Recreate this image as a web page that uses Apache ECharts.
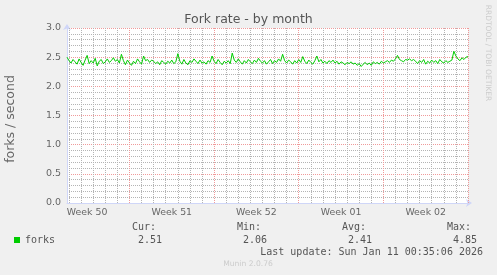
<!DOCTYPE html>
<html>
<head>
<meta charset="utf-8">
<script src="https://cdn.jsdelivr.net/npm/echarts@6/dist/echarts.min.js"></script>
<style>
html,body{margin:0;padding:0;background:#f0f0f0;}
#chart{width:497px;height:275px;}
</style>
</head>
<body>
<div id="chart"></div>
<script>
// Time slots: 4-hour averages starting Mon Dec 8 2025 20:00 (UTC), ending Jan 11 2026 00:00
const startTimeUTC = Date.UTC(2025, 11, 8, 20, 0, 0);
const stepHours = 4;

// forks / second
const forks = [
  2.50, 2.44, 2.40, 2.46, 2.42, 2.38, 2.47, 2.41, 2.36, 2.45,
  2.53, 2.39, 2.44, 2.40, 2.48, 2.35, 2.43, 2.46, 2.39, 2.42,
  2.47, 2.41, 2.44, 2.49, 2.43, 2.46, 2.40, 2.55, 2.44, 2.37,
  2.45, 2.40, 2.36, 2.43, 2.39, 2.47, 2.42, 2.38, 2.52, 2.44,
  2.46, 2.41, 2.45, 2.43, 2.39, 2.42, 2.37, 2.44, 2.41, 2.38,
  2.43, 2.40, 2.45, 2.39, 2.42, 2.56, 2.43, 2.38, 2.46, 2.40,
  2.37, 2.44, 2.41, 2.47, 2.43, 2.39, 2.45, 2.40, 2.42, 2.38,
  2.44, 2.41, 2.52, 2.43, 2.39, 2.46, 2.41, 2.37, 2.43, 2.40,
  2.44, 2.39, 2.57, 2.45, 2.41, 2.47, 2.42, 2.38, 2.44, 2.40,
  2.46, 2.42, 2.39, 2.45, 2.41, 2.48, 2.43, 2.40, 2.44, 2.38,
  2.42, 2.46, 2.39, 2.44, 2.41, 2.47, 2.43, 2.55, 2.44, 2.40,
  2.45, 2.42, 2.38, 2.44, 2.40, 2.46, 2.41, 2.51, 2.43, 2.39,
  2.45, 2.41, 2.38, 2.44, 2.52, 2.42, 2.46, 2.40, 2.43, 2.39,
  2.44, 2.41, 2.45, 2.40, 2.43, 2.38, 2.42, 2.40, 2.37, 2.41,
  2.39, 2.42, 2.38, 2.40, 2.36, 2.39, 2.34, 2.38, 2.41, 2.37,
  2.40, 2.36, 2.42, 2.39, 2.41, 2.38, 2.43, 2.40, 2.42, 2.44,
  2.41, 2.45, 2.43, 2.47, 2.53, 2.46, 2.44, 2.42, 2.46, 2.45,
  2.47, 2.44, 2.46, 2.43, 2.39, 2.44, 2.41, 2.46, 2.38, 2.43,
  2.40, 2.45, 2.41, 2.44, 2.39, 2.46, 2.42, 2.40, 2.44, 2.41,
  2.43, 2.45, 2.60, 2.52, 2.47, 2.44, 2.49, 2.46, 2.50, 2.51
];

const weekLabels = ['Week 50', 'Week 51', 'Week 52', 'Week 01', 'Week 02'];
const yTicks = [0, 0.5, 1.0, 1.5, 2.0, 2.5, 3.0];

const statNames = ['Cur:', 'Min:', 'Avg:', 'Max:'];
const statValues = ['2.51', '2.06', '2.41', '4.85'];
const seriesName = 'forks';
const titleText = 'Fork rate - by month';
const yName = 'forks / second';
const lastUpdate = 'Last update: Sun Jan 11 00:35:06 2026';
const footer = 'Munin 2.0.76';
const sideText = 'RRDTOOL / TOBI OETIKER';

// build category slots
const slots = forks.map((_, i) => new Date(startTimeUTC + i * stepHours * 3600000));
const categories = slots.map((d, i) => String(i));
const isDay = i => slots[i].getUTCHours() === 0;
const isWeek = i => isDay(i) && slots[i].getUTCDay() === 0;
const isMidWeek = i => slots[i].getUTCDay() === 3 && slots[i].getUTCHours() === 12;
const labelFor = {};
let w = 0;
slots.forEach((d, i) => { if (isMidWeek(i)) { labelFor[i] = weekLabels[w++]; } });
const dayLines = [];
const weekLines = [];
slots.forEach((d, i) => {
  if (isWeek(i)) weekLines.push({xAxis: categories[i]});
  else if (isDay(i)) dayLines.push({xAxis: categories[i]});
});

const FONT = 'DejaVu Sans';
const MONO = 'DejaVu Sans Mono';
const TXT = '#666666';
const AXIS = '#cfd6f8';
const MAJ = '#f09a9a';
const MIN = '#b4b4b4';

const chart = echarts.init(document.getElementById('chart'), null, {renderer: 'canvas'});
const statX0 = 156;
const statStep = 105;
const graphics = [
  {type: 'text', left: 'center', top: 13, style: {text: titleText, font: '12.5px "DejaVu Sans"', fill: '#555'}},
  {type: 'text', x: 10.5, y: 119, rotation: Math.PI / 2,
   style: {text: yName, font: '12.5px "DejaVu Sans"', fill: TXT, align: 'center', verticalAlign: 'middle'}},
  {type: 'text', x: 488, y: 53, rotation: -Math.PI / 2,
   style: {text: sideText, font: '7.5px "DejaVu Sans"', fill: '#cccccc', align: 'center', verticalAlign: 'middle'}},
  {type: 'text', x: 483, y: 252, style: {text: lastUpdate, font: '10px "DejaVu Sans Mono"', fill: '#555', align: 'right', verticalAlign: 'middle'}},
  {type: 'text', x: 248, y: 264, style: {text: footer, font: '7.6px "DejaVu Sans"', fill: '#cccccc', align: 'center', verticalAlign: 'middle'}}
];
statNames.forEach((n, k) => {
  graphics.push({type: 'text', x: statX0 + k * statStep, y: 227.5,
    style: {text: n, font: '10px "DejaVu Sans Mono"', fill: '#555', align: 'right', verticalAlign: 'middle'}});
  graphics.push({type: 'text', x: statX0 + 6 + k * statStep, y: 240,
    style: {text: statValues[k], font: '10px "DejaVu Sans Mono"', fill: '#555', align: 'right', verticalAlign: 'middle'}});
});

chart.setOption({
  backgroundColor: '#f0f0f0',
  animation: false,
  grid: {left: 67, right: 29, top: 28, bottom: 72, show: true, backgroundColor: '#ffffff', borderWidth: 0},
  legend: {
    data: [{name: seriesName, icon: 'rect'}],
    left: 14, top: 234, itemWidth: 6, itemHeight: 6, padding: 0,
    textStyle: {fontFamily: MONO, fontSize: 10, color: '#555', lineHeight: 12}
  },
  xAxis: {
    type: 'category', data: categories, boundaryGap: false,
    axisLine: {show: true, lineStyle: {color: AXIS, width: 1}, symbol: ['none', 'arrow'], symbolSize: [6, 6], symbolOffset: [0, 4]},
    axisTick: {show: false},
    axisLabel: {interval: (i) => isMidWeek(i), formatter: (v) => labelFor[Number(v)] || '',
      fontFamily: FONT, fontSize: 9.4, color: TXT, margin: 5},
    splitLine: {show: false}
  },
  yAxis: {
    type: 'value', min: yTicks[0], max: yTicks[yTicks.length - 1], interval: yTicks[1] - yTicks[0],
    axisLine: {show: true, lineStyle: {color: AXIS, width: 1}, symbol: ['none', 'arrow'], symbolSize: [6, 6], symbolOffset: [0, 4]},
    axisTick: {show: false},
    axisLabel: {formatter: v => v.toFixed(1), fontFamily: FONT, fontSize: 9.5, color: TXT, margin: 6},
    splitLine: {show: true, lineStyle: {color: MAJ, type: [1, 1], width: 1}},
    minorTick: {show: true, splitNumber: 5, length: 0},
    minorSplitLine: {show: true, lineStyle: {color: MIN, type: [1, 1], width: 1}}
  },
  series: [
    {
      // helper series (invisible) carrying the daily / weekly vertical grid lines
      name: 'grid-days', type: 'line', data: forks, z: 1, silent: true,
      showSymbol: false, symbol: 'none', lineStyle: {opacity: 0}, itemStyle: {opacity: 0},
      markLine: {
        silent: true, symbol: ['none', 'none'], animation: false, precision: 0,
        label: {show: false}, emphasis: {disabled: true},
        lineStyle: {color: MIN, type: [1, 1], width: 1, opacity: 1},
        data: dayLines
      }
    },
    {
      name: 'grid-weeks', type: 'line', data: forks, z: 2, silent: true,
      showSymbol: false, symbol: 'none', lineStyle: {opacity: 0}, itemStyle: {opacity: 0},
      markLine: {
        silent: true, symbol: ['none', 'none'], animation: false, precision: 0,
        label: {show: false}, emphasis: {disabled: true},
        lineStyle: {color: MAJ, type: [1, 1], width: 1, opacity: 1},
        data: weekLines
      }
    },
    {
      name: seriesName, type: 'line', data: forks,
      showSymbol: false, symbol: 'none', color: '#00cc00',
      lineStyle: {color: '#00cc00', width: 1}, z: 5
    }
  ],
  graphic: graphics
});
</script>
</body>
</html>
